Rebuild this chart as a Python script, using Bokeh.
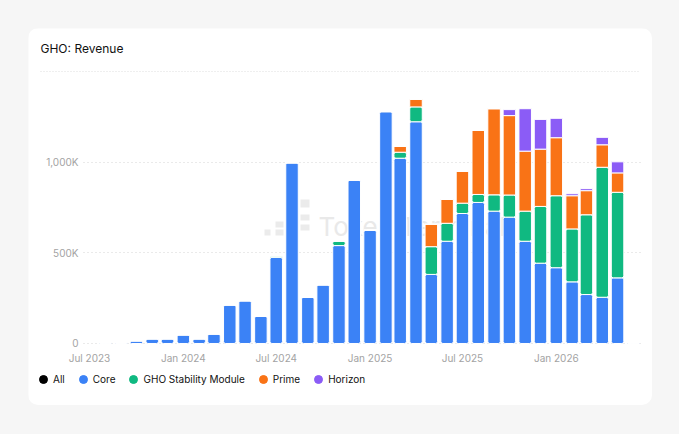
import datetime as dt
from bokeh.plotting import figure
from bokeh.models import (ColumnDataSource, FixedTicker, DatetimeTickFormatter, Range1d,
                          Legend, LegendItem, Label, Grid, BoxAnnotation)
from bokeh.layouts import column
from bokeh.embed import file_html
from bokeh.resources import INLINE

# ---------------- data (USD, monthly) ----------------
months = ["2023-08", "2023-09", "2023-10", "2023-11", "2023-12",
          "2024-01", "2024-02", "2024-03", "2024-04", "2024-05", "2024-06",
          "2024-07", "2024-08", "2024-09", "2024-10", "2024-11", "2024-12",
          "2025-01", "2025-02", "2025-03", "2025-04", "2025-05", "2025-06",
          "2025-07", "2025-08", "2025-09", "2025-10", "2025-11", "2025-12",
          "2026-01", "2026-02", "2026-03", "2026-04", "2026-05", "2026-06"]
core = [5, 5, 15, 26, 26,
        48, 26, 53, 213, 236, 151,
        475, 997, 256, 324, 540, 902,
        625, 1279, 1022, 1223, 381, 564,
        717, 778, 730, 697, 564, 443,
        418, 340, 270, 255, 362, 5]
gsm = [0, 0, 0, 0, 0,
       0, 0, 0, 0, 0, 0,
       8, 0, 0, 0, 25, 0,
       0, 0, 33, 82, 153, 99,
       57, 44, 90, 122, 166, 313,
       397, 292, 440, 717, 472, 0]
prime = [0, 0, 0, 0, 0,
         0, 0, 0, 0, 0, 0,
         0, 0, 0, 0, 0, 0,
         0, 0, 32, 42, 124, 132,
         176, 353, 475, 438, 331, 316,
         320, 183, 133, 124, 107, 0]
horizon = [0, 0, 0, 0, 0,
           0, 0, 0, 0, 0, 0,
           0, 0, 0, 0, 0, 0,
           0, 0, 0, 0, 0, 0,
           0, 0, 0, 33, 234, 164,
           107, 11, 11, 41, 61, 0]

series_names = ["Core", "GHO Stability Module", "Prime", "Horizon"]
series_colors = ["#3b82f6", "#10b981", "#f97316", "#8b5cf6"]
x_tick_dates = ["2023-07-01", "2024-01-01", "2024-07-01", "2025-01-01", "2025-07-01", "2026-01-01"]
y_ticks = [0, 500000, 1000000]
y_tick_labels = ["0", "500K", "1,000K"]
title_text = "GHO: Revenue"

# ---------------- build ----------------
EPOCH = dt.datetime(1970, 1, 1)
def to_ms(d):
    return (d - EPOCH).total_seconds() * 1000.0

month_dates = [dt.datetime.strptime(m + "-01", "%Y-%m-%d") for m in months]
src = ColumnDataSource(dict(
    month=month_dates,
    core=[v * 1000 for v in core],
    gsm=[v * 1000 for v in gsm],
    prime=[v * 1000 for v in prime],
    horizon=[v * 1000 for v in horizon],
))

# the whole white card is the plot frame; axes are pinned inside it
x_start = dt.datetime(2023, 3, 3, 12)
x_end = dt.datetime(2026, 7, 8, 12)
plot_left = dt.datetime(2023, 6, 19, 6)     # where the value grid starts
plot_right = dt.datetime(2026, 6, 14, 14)   # where the value grid ends
head_left = dt.datetime(2023, 3, 27)        # where the header rule starts

p = figure(width=624, height=377, x_axis_type="datetime", title=None,
           x_range=Range1d(x_start, x_end),
           y_range=Range1d(-342000, 1737400),
           output_backend="svg", toolbar_location=None,
           min_border_left=0, min_border_right=0, min_border_top=0, min_border_bottom=0,
           background_fill_color="white", border_fill_color="white",
           outline_line_color=None)

# watermark logo (faint, behind the bars; screen units from the frame's bottom-left)
wm_color = "#ebebeb"
for (l, r, b, t) in [(236, 242, 170, 176),
                     (247, 255, 170, 176), (247, 255, 178, 184),
                     (272, 281, 175, 181), (272, 281, 185, 191), (272, 281, 198, 206)]:
    p.add_layout(BoxAnnotation(left=l, right=r, bottom=b, top=t,
                               left_units="screen", right_units="screen",
                               bottom_units="screen", top_units="screen",
                               fill_color=wm_color, fill_alpha=1, line_color=None,
                               level="underlay"))
p.add_layout(Label(x=290, y=179, x_units="screen", y_units="screen", text="Token Terminal",
                   text_font="Inter", text_font_size="26px", text_color="#e9e9e9",
                   text_baseline="middle", level="underlay"))

bar_w = 24.5 * 86400000
p.vbar_stack(["core", "gsm", "prime", "horizon"], x="month", width=bar_w, source=src,
             color=series_colors, line_color="white", line_width=1,
             border_radius=(2, 2, 0, 0))

# axes
p.xaxis.ticker = FixedTicker(ticks=[to_ms(dt.datetime.strptime(d, "%Y-%m-%d")) for d in x_tick_dates])
p.xaxis.formatter = DatetimeTickFormatter(days="%b %Y", months="%b %Y", years="%b %Y")
p.xaxis.fixed_location = 0
p.yaxis.ticker = FixedTicker(ticks=y_ticks)
p.yaxis.major_label_overrides = {t: l for t, l in zip(y_ticks, y_tick_labels)}
p.yaxis.fixed_location = to_ms(plot_left)
for ax in (p.xaxis, p.yaxis):
    ax.axis_line_color = None
    ax.major_tick_line_color = None
    ax.minor_tick_line_color = None
    ax.major_tick_out = 0
    ax.major_tick_in = 0
    ax.major_label_text_color = "#a3a3a3"
    ax.major_label_text_font = "Inter"
    ax.major_label_text_font_size = "10px"
p.yaxis.major_label_standoff = 5
p.xaxis.major_label_standoff = 9

# grids
p.xgrid.visible = False
yg = p.ygrid[0]
yg.ticker = FixedTicker(ticks=y_ticks)
yg.grid_line_color = "#d4d4d4"
yg.grid_line_dash = "1 3"
yg.grid_line_width = 1
head_rule = Grid(dimension=1, ticker=FixedTicker(ticks=[1500000]),
                 grid_line_color="#dedede", grid_line_dash="1 2", grid_line_width=1)
if "cross_bounds" in yg.properties():
    yg.cross_bounds = (to_ms(plot_left), to_ms(plot_right))
    head_rule.cross_bounds = (to_ms(head_left), to_ms(plot_right))
p.add_layout(head_rule, "center")

# title (screen units are measured from the frame's bottom-left)
p.add_layout(Label(x=12, y=357, x_units="screen", y_units="screen", text=title_text,
                   text_font="Inter", text_font_size="12px", text_color="#111111",
                   text_baseline="middle", text_align="left"))

# legend with round dots (proxies carry a single NaN point, so nothing is plotted)
nan = float("nan")
items = []
r_all = p.scatter(x=[nan], y=[nan], marker="circle", size=8, color="#000000")
items.append(LegendItem(label="All", renderers=[r_all]))
for name, col in zip(series_names, series_colors):
    r = p.scatter(x=[nan], y=[nan], marker="circle", size=8, color=col)
    items.append(LegendItem(label=name, renderers=[r]))
legend = Legend(items=items, orientation="horizontal", location=(5, 16),
                border_line_color=None, background_fill_alpha=0, padding=0, margin=0,
                spacing=8, label_standoff=-1, glyph_width=20, glyph_height=20,
                label_width=0,
                label_text_font="Inter", label_text_font_size="10px",
                label_text_color="#111111")
p.add_layout(legend, "center")

p.styles = {"border-radius": "10px", "overflow": "hidden"}
layout = column(p, styles={"background-color": "#f6f6f6", "padding": "28px 27px 29px 28px"})

open("out.html", "w").write(file_html(layout, INLINE))
